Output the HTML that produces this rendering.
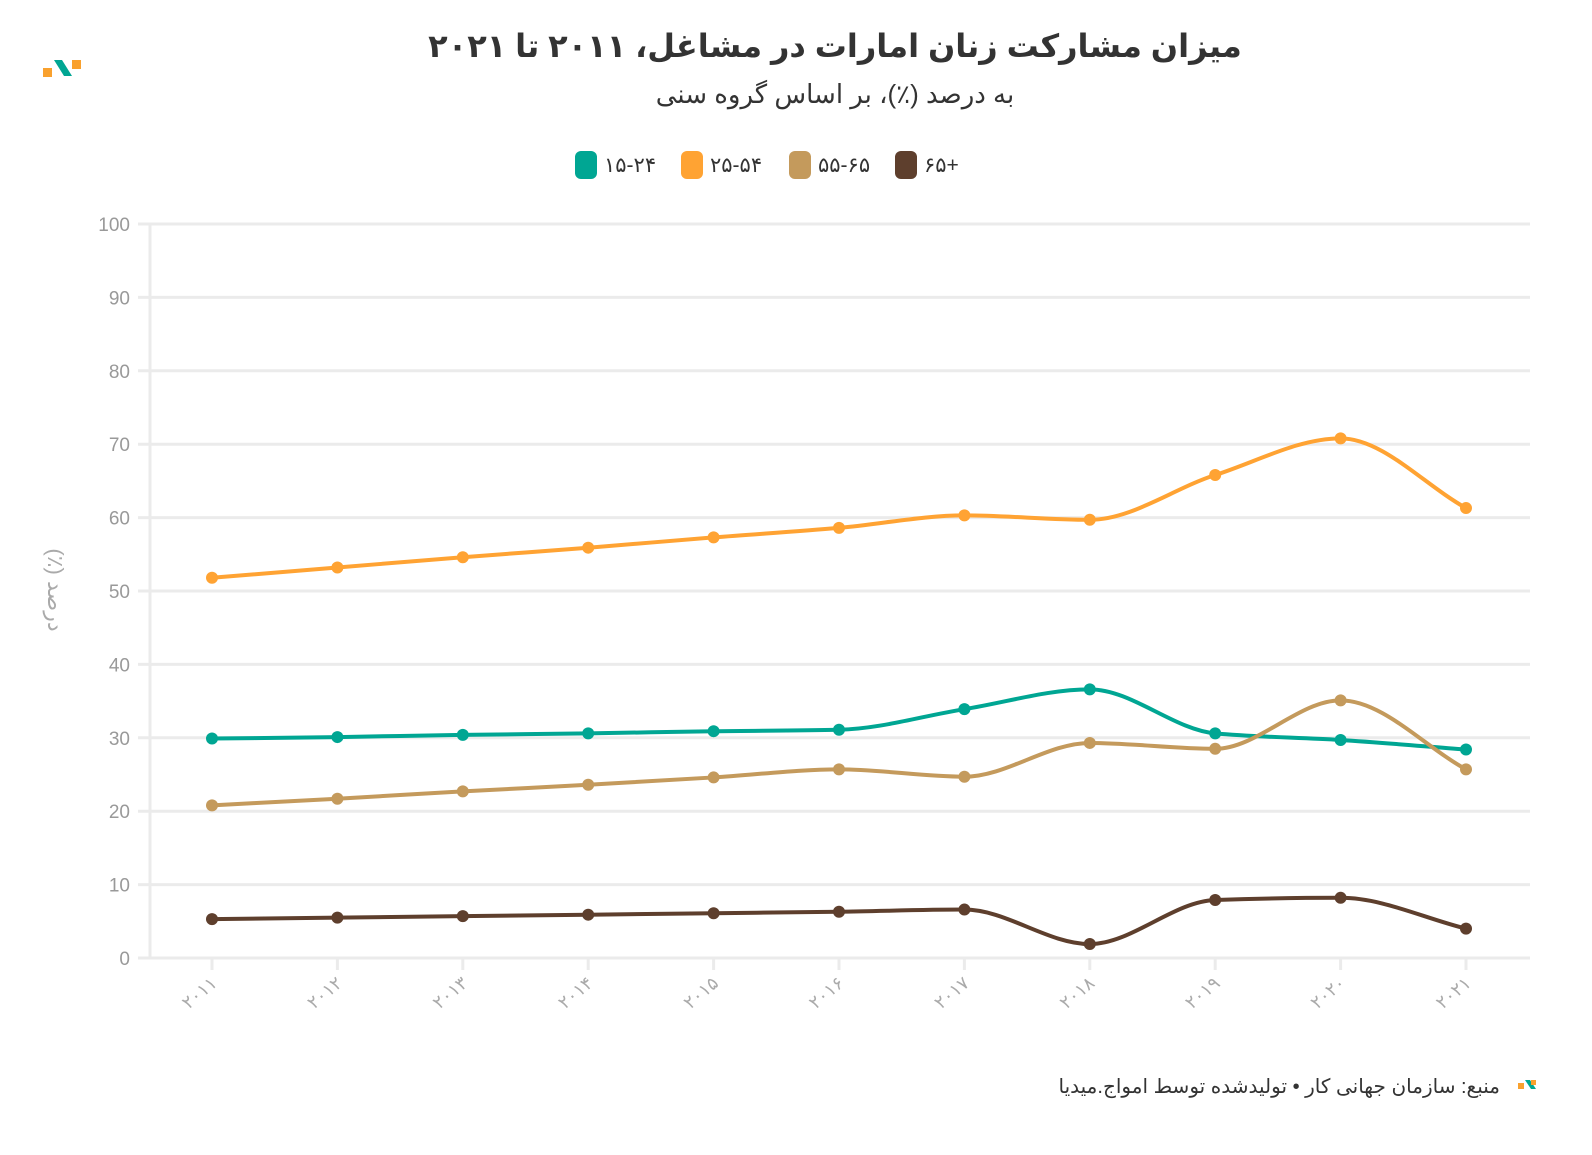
<!DOCTYPE html>
<html><head><meta charset="utf-8"><style>
body{margin:0;background:#fff;width:1592px;height:1150px;overflow:hidden;font-family:"Liberation Sans","Noto Sans CJK SC",sans-serif;position:relative}
#foot{position:absolute;right:92px;top:1074px;font-size:20px;color:#333;direction:rtl;white-space:nowrap;font-family:"Liberation Sans","DejaVu Sans",sans-serif}
</style></head><body>
<svg id="s" width="1592" height="1150" xmlns="http://www.w3.org/2000/svg" font-family="Liberation Sans, DejaVu Sans, sans-serif">
<text x="835" y="57" text-anchor="middle" font-size="32" font-weight="bold" fill="#333" direction="rtl">میزان مشارکت زنان امارات در مشاغل، ۲۰۱۱ تا ۲۰۲۱</text>
<text x="835" y="103" text-anchor="middle" font-size="26" fill="#333" direction="rtl">به درصد (٪)، بر اساس گروه سنی</text>
<g>
<rect x="43" y="68" width="9" height="9" fill="#f9a12e"/><rect x="72" y="60" width="9" height="9" fill="#f9a12e"/>
<path d="M54 60 L62 60 L72 76 L64 76 Z" fill="#00a693"/>
</g>
<g font-size="21" fill="#333">
<rect x="575" y="151" width="22" height="28" rx="6" fill="#00a693"/><text x="604" y="172">۱۵-۲۴</text>
<rect x="681" y="151" width="22" height="28" rx="6" fill="#ffa333"/><text x="710" y="172">۲۵-۵۴</text>
<rect x="789" y="151" width="22" height="28" rx="6" fill="#c49a5c"/><text x="818" y="172">۵۵-۶۵</text>
<rect x="895" y="151" width="22" height="28" rx="6" fill="#5e3f2d"/><text x="924" y="172">۶۵+</text>
</g>
<g id="grid" stroke="#ebebeb" stroke-width="3"></g>
<g id="yl" font-size="19" fill="#999" text-anchor="end"></g>
<text transform="translate(48,590) rotate(90)" text-anchor="middle" font-size="22" fill="#aaa" direction="rtl">درصد (٪)</text>
<g id="xl" font-size="18" fill="#aaa"></g>
<g id="ser"></g>
<rect x="1518" y="1083" width="6" height="6" fill="#f9a12e"/><path d="M1525 1080 L1530 1080 L1536 1089 L1531 1089Z" fill="#00a693"/><rect x="1531" y="1080" width="5" height="5" fill="#f9a12e"/>
</svg>
<div id="foot">منبع: سازمان جهانی کار • تولیدشده توسط امواج.میدیا</div>
<script>
const NS="http://www.w3.org/2000/svg";
function el(t,a,p,txt){const e=document.createElementNS(NS,t);for(const k in a)e.setAttribute(k,a[k]);if(txt)e.textContent=txt;p.appendChild(e);return e;}
const X=i=>212+125.4*i, Y=v=>958-7.34*v;
const g=document.getElementById('grid'),yl=document.getElementById('yl'),xl=document.getElementById('xl'),ser=document.getElementById('ser');
for(let v=0;v<=100;v+=10){el('line',{x1:138,x2:1530,y1:Y(v),y2:Y(v)},g);el('text',{x:130,y:Y(v)+7},yl,String(v));}
el('line',{x1:150,x2:150,y1:224,y2:958},g);
const fa=s=>s.replace(/\d/g,d=>'۰۱۲۳۴۵۶۷۸۹'[d]);
for(let i=0;i<11;i++){const x=X(i);el('line',{x1:x,x2:x,y1:958,y2:970},g);
el('text',{x:0,y:0,transform:`translate(${x+6},${985}) rotate(-40)`,'text-anchor':'end'},xl,fa(String(2011+i)));}
const data=[
["#00a693",[29.9,30.1,30.4,30.6,30.9,31.1,33.9,36.6,30.6,29.7,28.4]],
["#ffa333",[51.8,53.2,54.6,55.9,57.3,58.6,60.3,59.7,65.8,70.8,61.3]],
["#c49a5c",[20.8,21.7,22.7,23.6,24.6,25.7,24.7,29.3,28.5,35.1,25.7]],
["#5e3f2d",[5.3,5.5,5.7,5.9,6.1,6.3,6.6,1.9,7.9,8.2,4.0]]];
function mono(xs,ys){const n=xs.length,d=[],m=[];
for(let i=0;i<n-1;i++)d.push((ys[i+1]-ys[i])/(xs[i+1]-xs[i]));
m[0]=d[0];m[n-1]=d[n-2];
for(let i=1;i<n-1;i++){if(d[i-1]*d[i]<=0)m[i]=0;else{const h0=xs[i]-xs[i-1],h1=xs[i+1]-xs[i];m[i]=3*(h0+h1)/((2*h1+h0)/d[i-1]+(h1+2*h0)/d[i]);}}
let p=`M${xs[0]},${ys[0]}`;
for(let i=0;i<n-1;i++){const h=(xs[i+1]-xs[i])/3;p+=` C${xs[i]+h},${ys[i]+m[i]*h} ${xs[i+1]-h},${ys[i+1]-m[i+1]*h} ${xs[i+1]},${ys[i+1]}`;}
return p;}
for(const [c,v] of data){const xs=v.map((_,i)=>X(i)),ys=v.map(Y);
el('path',{d:mono(xs,ys),fill:'none',stroke:c,'stroke-width':4},ser);
xs.forEach((x,i)=>el('circle',{cx:x,cy:ys[i],r:6,fill:c},ser));}
</script>
</body></html>
